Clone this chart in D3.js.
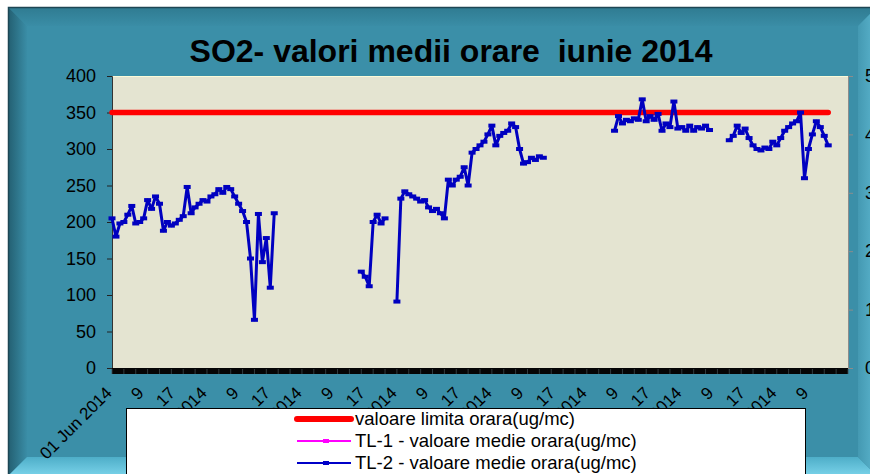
<!DOCTYPE html>
<html>
<head>
<meta charset="utf-8">
<title>SO2 - valori medii orare iunie 2014</title>
<script src="https://d3js.org/d3.v7.min.js"></script>
<style>
  body { margin: 0; background: #fff; }
  svg { display: block; font-family: Arial, "Liberation Sans", sans-serif; }
</style>
</head>
<body>
<script>
var width = 870,
    height = 474;

// one value per hour starting 01 Jun 2014 01:00 (ug/mc), null = no data
var hours = d3.range(187);
var tl2 = [
  205, 180, 198, 200, 210, 222, 198, 200, 205, 230, 218, 235, 225, 188, 200, 195,
  198, 203, 208, 248, 212, 220, 225, 230, 228, 235, 238, 245, 240, 248, 245, 235,
  225, 215, 200, 150, 66, 211, 145, 178, 110, 212,
  null, null, null, null, null, null, null, null, null, null, null, null, null, null,
  null, null, null, null, null, null, null,
  132, 125, 112, 200, 210, 198, 205,
  null, null,
  91, 232, 242, 238, 235, 232, 228, 230, 220, 215, 218, 212, 205, 258, 250, 258,
  262, 275, 250, 295, 300, 305, 310, 320, 332, 305, 318, 322, 325, 335, 330, 300,
  280, 282, 288, 285, 290, 288,
  null, null, null, null, null, null, null, null, null, null, null, null, null, null,
  null, null, null,
  325, 345, 335, 340, 338, 342, 340, 368, 338, 345, 340, 348, 325, 335, 330, 365,
  328, 330, 325, 332, 325, 330, 328, 332, 326,
  null, null, null, null,
  312, 318, 332, 322, 328, 315, 305, 300, 298, 302, 300, 310, 305, 315, 325, 330,
  335, 338, 350, 260, 300, 320, 338, 330, 318, 305,
  null, null, null, null, null
];
var tl1 = [];   // TL-1: no measurements
var limitValue = 350;
var limitHours = [0, 181];

var yTicks = [0, 50, 100, 150, 200, 250, 300, 350, 400];
var yRightTicks = [0, 1, 2, 3, 4, 5];
var xTickHours = d3.range(0, 177, 8);
var xTickLabels = [
  "01 Jun 2014", "9", "17", "02 Jun 2014", "9", "17", "03 Jun 2014", "9", "17",
  "04 Jun 2014", "9", "17", "05 Jun 2014", "9", "17", "06 Jun 2014", "9", "17",
  "07 Jun 2014", "9", "17", "08 Jun 2014", "9"
];
var legendLabels = [
  "valoare limita orara(ug/mc)",
  "TL-1 - valoare medie orara(ug/mc)",
  "TL-2 - valoare medie orara(ug/mc)"
];
var legendColors = ["#ff0000", "#ff00ff", "#0000c8"];

var svg = d3.select("body")
  .append("svg")
  .attr("width", width)
  .attr("height", height);

var defs = svg.append("defs");
function grad(id, x2, y2, c1, c2) {
  var g = defs.append("linearGradient").attr("id", id)
    .attr("x1", 0).attr("y1", 0).attr("x2", x2).attr("y2", y2);
  g.append("stop").attr("offset", "0%").attr("stop-color", c1);
  g.append("stop").attr("offset", "100%").attr("stop-color", c2);
}
grad("gTop", 0, 1, "#2f7b91", "#3a8da6");
grad("gLeft", 1, 0, "#235f71", "#3a8da6");
grad("gBottom", 0, 1, "#4eaec8", "#7ad3ea");
grad("gRight", 1, 0, "#4499b2", "#5cb5ce");

// frame
var X0 = 8, Y0 = 7, X1 = 877, Y1 = 476, b = 19;
svg.append("rect").attr("width", width).attr("height", height).attr("fill", "#fff");
svg.append("rect")
  .attr("x", X0).attr("y", Y0).attr("width", X1 - X0).attr("height", Y1 - Y0)
  .attr("fill", "#3b8fa8");
var faces = [
  { f: "url(#gTop)", p: [[X0, Y0], [X1, Y0], [X1 - b, Y0 + b], [X0 + b, Y0 + b]] },
  { f: "url(#gLeft)", p: [[X0, Y0], [X0 + b, Y0 + b], [X0 + b, Y1 - b], [X0, Y1]] },
  { f: "url(#gBottom)", p: [[X0, Y1], [X0 + b, Y1 - b], [X1 - b, Y1 - b], [X1, Y1]] },
  { f: "url(#gRight)", p: [[X1, Y0], [X1, Y1], [X1 - b, Y1 - b], [X1 - b, Y0 + b]] }
];
svg.selectAll("polygon.face")
  .data(faces)
  .enter()
  .append("polygon")
  .attr("class", "face")
  .attr("points", d => d.p.join(" "))
  .attr("fill", d => d.f);
svg.append("rect")
  .attr("x", X0 + 0.5).attr("y", Y0 + 0.5).attr("width", X1 - X0).attr("height", Y1 - Y0)
  .attr("fill", "none").attr("stroke", "#1d4654").attr("stroke-width", 1.5);

// title
svg.append("text")
  .attr("x", 451).attr("y", 62)
  .attr("text-anchor", "middle")
  .style("font-size", "32px")
  .style("font-weight", "bold")
  .style("white-space", "pre")
  .attr("fill", "#000")
  .text("SO2- valori medii orare  iunie 2014");

var plotL = 112, plotR = 848, plotT = 76, plotB = 368;

var x = d3.scaleLinear().domain([0, 186]).range([plotL, plotR]);
var y = d3.scaleLinear().domain([0, 400]).range([plotB, plotT]);
var yR = d3.scaleLinear().domain([0, 5]).range([plotB, plotT]);

// plot area
svg.append("rect")
  .attr("x", plotL).attr("y", plotT).attr("width", plotR - plotL).attr("height", plotB - plotT)
  .attr("fill", "#e4e4d1");
svg.append("line")
  .attr("x1", plotL).attr("x2", plotR).attr("y1", plotT + 0.5).attr("y2", plotT + 0.5)
  .attr("stroke", "#fafad8");

// left axis
var yAxis = svg.append("g")
  .attr("transform", "translate(" + plotL + ",0)")
  .call(d3.axisLeft(y).tickValues(yTicks).tickSize(5).tickPadding(11));
yAxis.select(".domain").attr("stroke", "#333");
yAxis.selectAll(".tick line").attr("stroke", "#222");
yAxis.selectAll("text").style("font-size", "18px").attr("fill", "#000");

// right axis
var yRAxis = svg.append("g")
  .attr("transform", "translate(" + plotR + ",0)")
  .call(d3.axisRight(yR).tickValues(yRightTicks).tickSize(5).tickPadding(12));
yRAxis.select(".domain").attr("stroke", "#8c8c8c");
yRAxis.selectAll(".tick line").attr("stroke", "#8c8c8c");
yRAxis.selectAll("text").style("font-size", "18px").attr("fill", "#000");

// bottom axis: dense tick band
svg.append("rect")
  .attr("x", plotL).attr("y", plotB).attr("width", plotR - plotL).attr("height", 6)
  .attr("fill", "#050505");
svg.append("g")
  .selectAll("line")
  .data(d3.range(0, 187, 3))
  .enter()
  .append("line")
  .attr("x1", d => x(d)).attr("x2", d => x(d))
  .attr("y1", plotB + 1).attr("y2", plotB + 6)
  .attr("stroke", "#3e4a4e").attr("stroke-width", 0.8);

svg.append("g")
  .selectAll("text")
  .data(xTickHours)
  .enter()
  .append("text")
  .attr("transform", d => "translate(" + (x(d) + 1) + ",394) rotate(-45)")
  .attr("text-anchor", "end")
  .style("font-size", "17px")
  .attr("fill", "#000")
  .text((d, i) => xTickLabels[i]);

// limit line
svg.append("path")
  .datum(limitHours)
  .attr("d", d3.line().x(d => x(d)).y(() => y(limitValue)))
  .attr("fill", "none")
  .attr("stroke", "#ff0000")
  .attr("stroke-width", 5.5)
  .attr("stroke-linecap", "round");

// TL-2 series
var pts = hours.map(h => ({ h: h, v: tl2[h] }));
var line = d3.line()
  .defined(d => d.v != null)
  .x(d => x(d.h))
  .y(d => y(d.v));

svg.append("path")
  .datum(pts)
  .attr("d", line)
  .attr("fill", "none")
  .attr("stroke", "#0000c0")
  .attr("stroke-width", 3)
  .attr("stroke-linejoin", "round");

svg.append("g")
  .selectAll("rect")
  .data(pts.filter(d => d.v != null))
  .enter()
  .append("rect")
  .attr("x", d => x(d.h) - 3.5)
  .attr("y", d => y(d.v) - 2)
  .attr("width", 7)
  .attr("height", 4)
  .attr("fill", "#0000c0");

// legend
var legend = svg.append("g");
legend.append("rect")
  .attr("x", 126.5).attr("y", 408.5).attr("width", 679).attr("height", 80)
  .attr("fill", "#fff").attr("stroke", "#000");

var rows = legend.selectAll("g.row")
  .data(legendLabels)
  .enter()
  .append("g")
  .attr("class", "row")
  .attr("transform", (d, i) => "translate(0," + (419 + i * 22) + ")");

rows.append("line")
  .attr("x1", 297).attr("x2", 351)
  .attr("stroke", (d, i) => legendColors[i])
  .attr("stroke-width", (d, i) => i === 0 ? 6 : 2)
  .attr("stroke-linecap", (d, i) => i === 0 ? "round" : "butt");

rows.filter((d, i) => i > 0)
  .append("rect")
  .attr("x", 323).attr("y", -2).attr("width", 6).attr("height", 4)
  .attr("fill", (d, i) => legendColors[i + 1]);

rows.append("text")
  .attr("x", 355)
  .attr("dy", "0.35em")
  .style("font-size", "18.5px")
  .attr("fill", "#000")
  .text(d => d);
</script>
</body>
</html>
